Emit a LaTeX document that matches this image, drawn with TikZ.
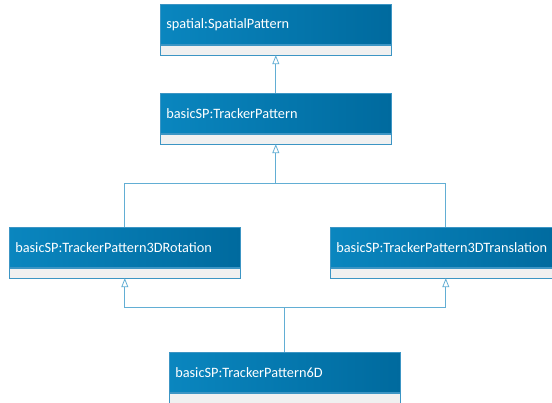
\documentclass[tikz,border=0pt]{standalone}
\usepackage{fontspec}
\setmainfont{Carlito}
\usetikzlibrary{arrows.meta, positioning}
\definecolor{HeadLight}{HTML}{0A86BF}
\definecolor{HeadDark}{HTML}{006A9E}
\definecolor{BarGray}{HTML}{F0F0F0}
\definecolor{EdgeBlue}{HTML}{3C95C4}
\definecolor{LinkBlue}{HTML}{62AED4}

\tikzset{
  classhead/.style={rectangle, left color=HeadLight, right color=HeadDark, draw=EdgeBlue, line width=0.6pt,
    minimum height=40pt, text width=219pt, inner xsep=6pt, align=left, text=white, font=\fontsize{14.3}{17}\selectfont},
  classbar/.style={rectangle, fill=BarGray, draw=EdgeBlue, line width=0.6pt, minimum width=231pt, minimum height=10pt, inner sep=0pt},
  link/.style={draw=LinkBlue, line width=0.8pt},
  generalize/.style={link, -{Triangle[open, length=9pt, width=7pt, fill=white]}},
}

\begin{document}
\begin{tikzpicture}[x=1pt, y=-1pt]
        \clip (0,0) rectangle (552,403);
        \fill[white] (0,0) rectangle (552,403);

        % Classes
        \node[classhead, anchor=north west] (spatial) at (160,4) {spatial:SpatialPattern};
        \node[classbar, below=0pt of spatial] (spatialbar) {};

        \node[classhead, anchor=north west] (tracker) at (160,93) {basicSP:TrackerPattern};
        \node[classbar, below=0pt of tracker] (trackerbar) {};

        \node[classhead, anchor=north west] (rotation) at (9,227) {basicSP:TrackerPattern3DRotation};
        \node[classbar, below=0pt of rotation] (rotationbar) {};

        \node[classhead, anchor=north west] (translation) at (330,227) {basicSP:TrackerPattern3DTranslation};
        \node[classbar, below=0pt of translation] (translationbar) {};

        \node[classhead, anchor=north west] (sixd) at (169,352) {basicSP:TrackerPattern6D};
        \node[classbar, below=0pt of sixd] (sixdbar) {};

        % Junction points
        \coordinate (trackerjoin) at (trackerbar.south |- 0,183);
        \coordinate (sixdjoin) at (sixd.north |- 0,307);

        % Generalizations
        \draw[generalize] (tracker.north) -- (spatialbar.south);
        \draw[link] (rotation.north) |- (trackerjoin);
        \draw[link] (translation.north) |- (trackerjoin);
        \draw[generalize] (trackerjoin) -- (trackerbar.south);
        \draw[link] (sixd.north) -- (sixdjoin);
        \draw[generalize] (sixdjoin) -| (rotationbar.south);
        \draw[generalize] (sixdjoin) -| (translationbar.south);
\end{tikzpicture}
\end{document}
